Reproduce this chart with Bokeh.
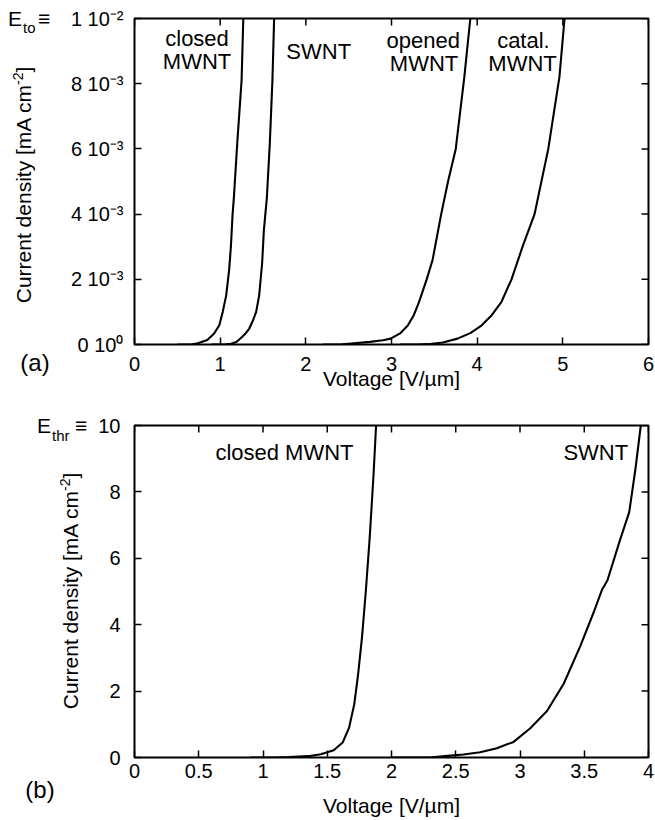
import numpy as np
from bokeh.plotting import figure
from bokeh.models import FixedTicker, Range1d, Label, Div
from bokeh.layouts import column, row
from bokeh.embed import file_html
from bokeh.resources import INLINE

FONT = "Liberation Sans"

# ---------------- Panel (a): current density in units of 1e-3 mA cm^-2 ----------------
a_closed_v = [0.50, 0.66, 0.74, 0.85, 0.93, 0.99, 1.03, 1.07, 1.105, 1.125, 1.145, 1.16, 1.20, 1.25, 1.27]
a_closed_j = [0.00, 0.00, 0.04, 0.14, 0.34, 0.59, 1.00, 1.50, 2.30, 3.00, 4.00, 4.50, 6.20, 8.10, 10.0]

a_swnt_v = [0.90, 1.05, 1.125, 1.19, 1.24, 1.29, 1.34, 1.38, 1.42, 1.455, 1.49, 1.51, 1.545, 1.58, 1.61, 1.63]
a_swnt_j = [0.00, 0.00, 0.02, 0.08, 0.19, 0.32, 0.49, 0.72, 1.00, 1.50, 2.50, 3.50, 4.50, 6.20, 8.10, 10.0]

a_opened_v = [2.20, 2.40, 2.53, 2.75, 2.90, 2.99, 3.10, 3.19, 3.26, 3.32, 3.41, 3.48, 3.58, 3.66, 3.75, 3.85, 3.92]
a_opened_j = [0.00, 0.00, 0.03, 0.08, 0.13, 0.18, 0.34, 0.58, 0.90, 1.29, 1.99, 2.60, 4.00, 5.00, 6.00, 8.20, 10.0]

a_catal_v = [3.10, 3.30, 3.42, 3.60, 3.77, 3.92, 4.05, 4.17, 4.28, 4.40, 4.53, 4.67, 4.75, 4.83, 4.96, 5.02]
a_catal_j = [0.00, 0.00, 0.01, 0.06, 0.18, 0.35, 0.58, 0.90, 1.29, 1.99, 3.00, 4.00, 5.00, 6.00, 8.20, 10.0]

a_xticks = [0, 1, 2, 3, 4, 5, 6]
a_yticks = [0, 2, 4, 6, 8, 10]
a_ylabels = ["0 10\u2070", "2 10\u207b\u00b3", "4 10\u207b\u00b3", "6 10\u207b\u00b3", "8 10\u207b\u00b3", "1 10\u207b\u00b2"]

# ---------------- Panel (b): current density in mA cm^-2 ----------------
b_closed_v = [0.90, 1.10, 1.20, 1.35, 1.45, 1.55, 1.62, 1.67, 1.71, 1.74, 1.77, 1.80, 1.83, 1.86, 1.88]
b_closed_j = [0.00, 0.00, 0.01, 0.04, 0.10, 0.22, 0.45, 0.90, 1.60, 2.50, 3.60, 5.00, 6.60, 8.50, 10.0]

b_swnt_v = [2.00, 2.30, 2.435, 2.56, 2.69, 2.82, 2.95, 3.08, 3.21, 3.34, 3.47, 3.575, 3.64, 3.68, 3.78, 3.85, 3.90, 3.94]
b_swnt_j = [0.00, 0.00, 0.05, 0.09, 0.16, 0.28, 0.47, 0.88, 1.40, 2.22, 3.36, 4.39, 5.07, 5.33, 6.57, 7.39, 8.74, 10.0]

b_xticks = [0, 0.5, 1, 1.5, 2, 2.5, 3, 3.5, 4]
b_xlabels = ["0", "0.5", "1", "1.5", "2", "2.5", "3", "3.5", "4"]
b_yticks = [0, 2, 4, 6, 8, 10]
b_ylabels = ["0", "2", "4", "6", "8", "10"]

X_TITLE = "Voltage [V/\u00b5m]"
TICK_PX = 7


def style(p, xticks, yticks, xover, yover, ytick_standoff,
          xtick_standoff, xlab_standoff, xmax, ymax, frame_w, frame_h):
    p.outline_line_color = "black"
    p.outline_line_width = 2
    p.xgrid.visible = False
    p.ygrid.visible = False
    p.background_fill_color = "white"
    p.border_fill_color = "white"
    for ax, ticks, over in ((p.xaxis[0], xticks, xover), (p.yaxis[0], yticks, yover)):
        ax.ticker = FixedTicker(ticks=ticks)
        ax.major_label_overrides = over
        ax.major_label_text_font = FONT
        ax.major_label_text_font_size = "20px"
        ax.major_label_text_color = "black"
        ax.axis_label_text_font = FONT
        ax.axis_label_text_font_size = "21px"
        ax.axis_label_text_font_style = "normal"
        ax.axis_label_text_color = "black"
        ax.axis_line_color = None
        ax.major_tick_in = TICK_PX
        ax.major_tick_out = 0
        ax.major_tick_line_width = 1.5
        ax.minor_tick_line_color = None
    p.xaxis[0].major_label_standoff = xtick_standoff
    p.xaxis[0].axis_label_standoff = xlab_standoff
    p.yaxis[0].major_label_standoff = ytick_standoff
    # mirrored inward ticks on the top and right edges
    dy = TICK_PX * ymax / frame_h
    dx = TICK_PX * xmax / frame_w
    p.segment(x0=xticks, y0=[ymax] * len(xticks), x1=xticks, y1=[ymax - dy] * len(xticks),
              line_color="black", line_width=1.5)
    p.segment(x0=[xmax] * len(yticks), y0=yticks, x1=[xmax - dx] * len(yticks), y1=yticks,
              line_color="black", line_width=1.5)


def text(p, x, y, s, size="22px", align="center", baseline="middle"):
    p.add_layout(Label(x=x, y=y, text=s, text_font=FONT, text_font_size=size,
                       text_align=align, text_baseline=baseline, text_color="black"))


def span(left, top, size, content, center_x=False, rotate=False):
    tx = "-50%" if (center_x or rotate) else "0"
    rot = " rotate(-90deg)" if rotate else ""
    return ('<div style="position:absolute;left:%dpx;top:%dpx;font-size:%dpx;line-height:1;'
            'white-space:nowrap;transform:translate(%s,-50%%)%s;">%s</div>'
            % (left, top, size, tx, rot, content))


def gutter(w, h, pieces):
    html = ('<div style="position:relative;width:%dpx;height:%dpx;'
            'font-family:\'Liberation Sans\',Arial,sans-serif;color:black;">%s</div>'
            % (w, h, "".join(pieces)))
    return Div(text=html, width=w, height=h, margin=0)


Y_TITLE_HTML = 'Current density [mA cm<sup style="font-size:14px;line-height:0;">-2</sup>]'

# ---------------- figure (a) ----------------
G1 = 61
p1 = figure(width=655 - G1, height=392, output_backend="svg", toolbar_location=None,
            x_range=Range1d(0, 6), y_range=Range1d(0, 10),
            min_border_left=134 - G1, min_border_right=7, min_border_top=18, min_border_bottom=43,
            x_axis_label=X_TITLE)
style(p1, a_xticks, a_yticks, {t: str(t) for t in a_xticks},
      dict(zip(a_yticks, a_ylabels)), 11, 12, -7, 6, 10, 514, 331)
for v, j in ((a_closed_v, a_closed_j), (a_swnt_v, a_swnt_j),
             (a_opened_v, a_opened_j), (a_catal_v, a_catal_j)):
    p1.line(v, j, line_color="black", line_width=2.1)

text(p1, 0.73, 9.40, "closed")
text(p1, 0.73, 8.67, "MWNT")
text(p1, 2.15, 9.00, "SWNT")
text(p1, 3.37, 9.33, "opened")
text(p1, 3.38, 8.63, "MWNT")
text(p1, 4.54, 9.33, "catal.")
text(p1, 4.53, 8.63, "MWNT")

g1 = gutter(G1, 392, [
    span(8, 18, 21, "E"),
    span(23, 27, 15, "to"),
    span(38, 18, 21, "\u2261"),
    span(35, 363, 24, "(a)", center_x=True),
    span(23, 185, 21, Y_TITLE_HTML, rotate=True),
])

# ---------------- figure (b) ----------------
G2 = 92
p2 = figure(width=655 - G2, height=428, output_backend="svg", toolbar_location=None,
            x_range=Range1d(0, 4), y_range=Range1d(0, 10),
            min_border_left=134 - G2, min_border_right=7, min_border_top=33, min_border_bottom=63,
            x_axis_label=X_TITLE)
style(p2, b_xticks, b_yticks, dict(zip(b_xticks, b_xlabels)),
      dict(zip(b_yticks, b_ylabels)), 14, 6, 13, 4, 10, 514, 332)
for v, j in ((b_closed_v, b_closed_j), (b_swnt_v, b_swnt_j)):
    p2.line(v, j, line_color="black", line_width=2.1)

text(p2, 1.167, 9.19, "closed MWNT")
text(p2, 3.59, 9.19, "SWNT")

g2 = gutter(G2, 428, [
    span(37, 33, 21, "E"),
    span(52, 43, 15, "thr"),
    span(75, 33, 21, "\u2261"),
    span(40, 398, 24, "(b)", center_x=True),
    span(70, 199, 21, Y_TITLE_HTML, rotate=True),
])

layout = column(row(g1, p1), row(g2, p2))
open("out.html", "w").write(file_html(layout, INLINE))
